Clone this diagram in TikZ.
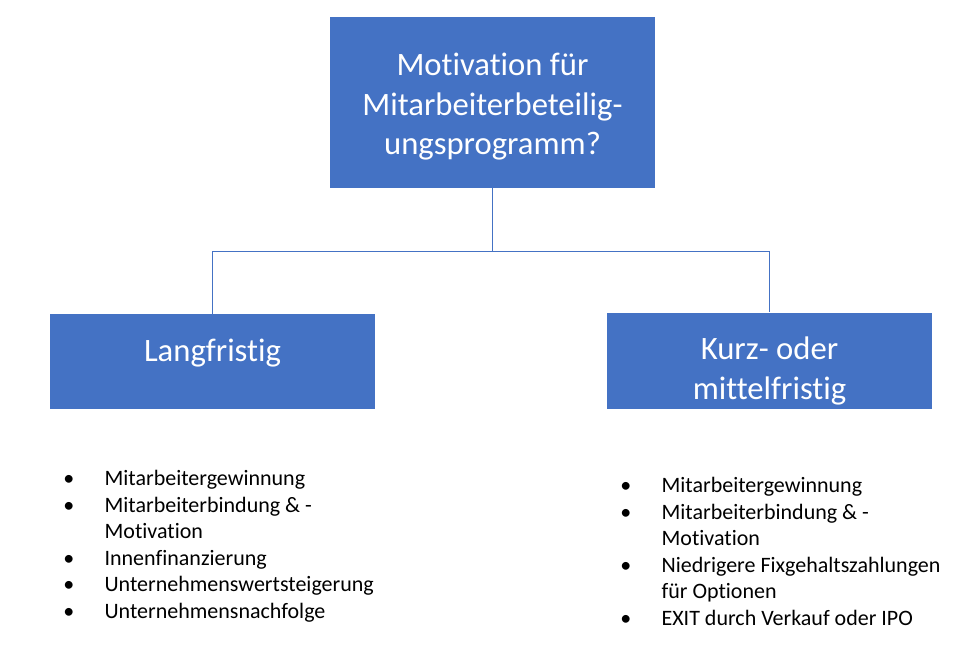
\documentclass[tikz,border=0pt]{standalone}
\usepackage{fontspec}
\setmainfont{Carlito}[Ligatures=NoCommon]
\usepackage{tikz}
\usetikzlibrary{calc}
\usetikzlibrary{positioning}
\definecolor{boxblue}{HTML}{4472C4}
\newcommand{\bulline}[1]{\makebox[31pt][l]{\textbullet}#1}
\newcommand{\contline}[1]{\hspace*{31pt}#1}

\begin{document}
\begin{tikzpicture}[
    x=0.75pt, y=-0.75pt,
    block/.style={
      rectangle,
      fill=boxblue,
      text=white,
      align=center,
      inner sep=0pt,
      minimum width=243.75pt,
      font=\fontsize{24.5}{29.7}\selectfont
    },
    link/.style={
      draw=boxblue,
      line width=0.8pt
    },
    itemlist/.style={
      anchor=north west,
      align=left,
      inner sep=0pt,
      font=\fontsize{16.5}{19.9}\selectfont
    }
]
\useasboundingbox (0,0) rectangle (957,644);

%% Boxes
\node [block, text height=103.2pt, text depth=25pt] (motiv) at (492.5,102.5) {Motivation für\\Mitarbeiterbeteilig-\\ungsprogramm?};
\node [block, text height=35.25pt, text depth=36pt] (lang) at (212.5,361.5) {Langfristig};
\node [block, text height=65.25pt, text depth=6.75pt] (kurz) at (769.5,360.5) {Kurz- oder\\mittelfristig};

%% Lists
\node [itemlist] (langlist) at (63,470) {%
\bulline{Mitarbeitergewinnung}\\
\bulline{Mitarbeiterbindung \& -}\\
\contline{Motivation}\\
\bulline{Innenfinanzierung}\\
\bulline{Unternehmenswertsteigerung}\\
\bulline{Unternehmensnachfolge}};
\node [itemlist] (kurzlist) at (620,477) {%
\bulline{Mitarbeitergewinnung}\\
\bulline{Mitarbeiterbindung \& -}\\
\contline{Motivation}\\
\bulline{Niedrigere Fixgehaltszahlungen}\\
\contline{für Optionen}\\
\bulline{EXIT durch Verkauf oder IPO}};

%% Lines
\coordinate (split) at ($(motiv.south)+(0,63)$);
\draw [link] (motiv.south) -- (split);
\draw [link] (split) -| (lang.north);
\draw [link] (split) -| (kurz.north);

\end{tikzpicture}
\end{document}
